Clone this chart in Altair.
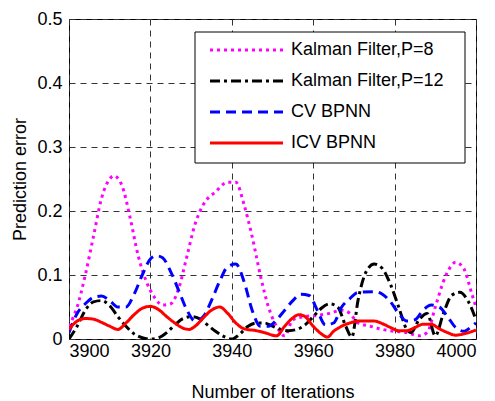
import altair as alt
import pandas as pd

# ---- data ----
kf8_x = [3900, 3902, 3904, 3906, 3908, 3910, 3911, 3913, 3915, 3917, 3919, 3921, 3923, 3925, 3927,
         3929, 3931, 3933, 3936, 3939, 3941, 3943, 3945, 3947, 3949, 3951, 3953, 3955, 3958, 3961,
         3964, 3967, 3969, 3971, 3974, 3977, 3980, 3983, 3986, 3988, 3990, 3992, 3994, 3995, 3997,
         3999, 4000]
kf8_y = [0.02, 0.05, 0.10, 0.16, 0.22, 0.25, 0.255, 0.24, 0.19, 0.13, 0.09, 0.065, 0.053, 0.055, 0.08,
         0.13, 0.18, 0.21, 0.23, 0.245, 0.245, 0.21, 0.16, 0.10, 0.05, 0.02, 0.005, 0.03, 0.035, 0.037,
         0.04, 0.045, 0.04, 0.025, 0.02, 0.015, 0.012, 0.01, 0.005, 0.01, 0.05, 0.09, 0.115, 0.12, 0.11,
         0.07, 0.05]

kf12_x = [3900, 3902, 3904, 3906, 3908, 3910, 3912, 3914, 3916, 3918, 3920, 3922, 3924, 3926, 3928,
          3930, 3932, 3934, 3936, 3938, 3940, 3942, 3944, 3946, 3948, 3950, 3952, 3954, 3956, 3958,
          3960, 3962, 3964, 3966, 3968, 3969.5, 3971, 3973, 3975, 3977, 3979, 3981, 3983, 3984, 3986,
          3988, 3990, 3992, 3994, 3996, 3998, 4000]
kf12_y = [0.0, 0.02, 0.045, 0.058, 0.06, 0.052, 0.035, 0.02, 0.008, 0.002, 0.0, 0.002, 0.01, 0.022, 0.032,
          0.035, 0.032, 0.022, 0.012, 0.004, 0.0, 0.008, 0.02, 0.025, 0.025, 0.02, 0.015, 0.013, 0.015, 0.022,
          0.035, 0.048, 0.055, 0.05, 0.02, 0.003, 0.06, 0.105, 0.117, 0.11, 0.085, 0.05, 0.015, 0.01, 0.03,
          0.04, 0.005, 0.04, 0.068, 0.073, 0.06, 0.03]

cv_x = [3900, 3902, 3904, 3906, 3908, 3910, 3912, 3914, 3916, 3918, 3920, 3921.5, 3923, 3925, 3927,
        3929, 3931, 3933, 3935, 3937, 3939, 3941, 3943, 3945, 3947, 3949, 3951, 3953, 3955, 3957,
        3959, 3961, 3963, 3965, 3967, 3969, 3971, 3975, 3977, 3979, 3981, 3983, 3985, 3987, 3989,
        3991, 3993, 3995, 3997, 3999, 4000]
cv_y = [0.01, 0.04, 0.055, 0.065, 0.067, 0.06, 0.05, 0.05, 0.07, 0.10, 0.125, 0.13, 0.127, 0.105, 0.075,
        0.045, 0.028, 0.035, 0.06, 0.09, 0.113, 0.117, 0.09, 0.045, 0.02, 0.02, 0.03, 0.045, 0.06, 0.07,
        0.068, 0.045, 0.022, 0.025, 0.05, 0.063, 0.073, 0.074, 0.07, 0.058, 0.04, 0.028, 0.03, 0.045, 0.053,
        0.05, 0.035, 0.018, 0.012, 0.02, 0.025]

icv_x = [3900, 3902, 3904, 3906, 3908, 3910, 3912, 3914, 3916, 3918, 3920, 3922, 3924, 3926, 3928,
         3929.5, 3931, 3933, 3935, 3937, 3939, 3941, 3943, 3946, 3948, 3951, 3953, 3955, 3956.5, 3958,
         3960, 3962, 3963.5, 3965, 3967, 3969, 3971, 3975, 3977, 3979, 3981, 3983, 3985, 3987, 3989,
         3991, 3993, 3995, 3997, 4000]
icv_y = [0.015, 0.028, 0.032, 0.031, 0.026, 0.02, 0.015, 0.025, 0.038, 0.048, 0.051, 0.046, 0.035, 0.025, 0.017,
         0.015, 0.02, 0.033, 0.045, 0.05, 0.04, 0.025, 0.016, 0.013, 0.01, 0.005, 0.02, 0.033, 0.038, 0.035,
         0.02, 0.008, 0.003, 0.012, 0.02, 0.025, 0.028, 0.028, 0.024, 0.018, 0.013, 0.013, 0.018, 0.023, 0.023,
         0.016, 0.01, 0.006, 0.008, 0.014]

series_names = ["Kalman Filter,P=8", "Kalman Filter,P=12", "CVBPNN", "ICVBPNN"]
legend_labels = ["Kalman Filter,P=8", "Kalman Filter,P=12", "CV BPNN", "ICV BPNN"]
series_x = [kf8_x, kf12_x, cv_x, icv_x]
series_y = [kf8_y, kf12_y, cv_y, icv_y]
colors = ["#ff00ff", "#000000", "#0000ff", "#ff0000"]
dashes = [[3, 4], [10, 4, 3, 4], [10, 6], [1, 0]]

x_ticks = [3900, 3920, 3940, 3960, 3980, 4000]
y_ticks = [0, 0.1, 0.2, 0.3, 0.4, 0.5]

FONT = "Liberation Sans"
FS = 18
W, H = 407, 320

common_axis = dict(grid=True, gridDash=[6, 5], gridColor="#333", gridOpacity=1,
                   ticks=False, domain=False, labelFont=FONT, titleFont=FONT,
                   labelFontSize=FS, titleFontSize=FS, labelColor="black",
                   titleColor="black", titleFontWeight="normal")

x_enc = alt.X("x:Q", scale=alt.Scale(domain=[3900, 4000], nice=False),
              axis=alt.Axis(values=x_ticks, format="d", title="Number of Iterations",
                            labelPadding=3, titlePadding=23, **common_axis))
y_enc = alt.Y("y:Q", scale=alt.Scale(domain=[0, 0.5], nice=False),
              axis=alt.Axis(values=y_ticks, format=".1~f", title="Prediction error",
                            labelPadding=7, titlePadding=7, **common_axis))

layers = []
for name, xs, ys, c, d in zip(series_names, series_x, series_y, colors, dashes):
    df = pd.DataFrame({"x": xs, "y": ys, "series": name})
    layers.append(
        alt.Chart(df).mark_line(color=c, strokeDash=d, strokeWidth=3, interpolate="monotone",
                                clip=True, strokeCap="butt")
        .encode(x=x_enc, y=y_enc)
    )

# ---- legend box (manual, MATLAB style) ----
box = alt.Chart(pd.DataFrame({"a": [0]})).mark_rect(fill="white", stroke="black", strokeWidth=1).encode(
    x=alt.value(126), x2=alt.value(396), y=alt.value(13), y2=alt.value(144))
layers.append(box)
row_y = [31, 62, 93, 124]
for lab, c, d, ry in zip(legend_labels, colors, dashes, row_y):
    layers.append(
        alt.Chart(pd.DataFrame({"label": [lab]})).mark_rule(color=c, strokeDash=d, strokeWidth=3,
                                                             strokeCap="butt")
        .encode(x=alt.value(141), x2=alt.value(214), y=alt.value(ry))
    )
    layers.append(
        alt.Chart(pd.DataFrame({"label": [lab]})).mark_text(align="left", baseline="middle",
                                                             font=FONT, fontSize=FS, color="black")
        .encode(x=alt.value(222), y=alt.value(ry), text="label:N")
    )

chart = alt.layer(*layers).properties(
    width=W, height=H, background="white",
    padding={"left": 3, "top": 2, "right": 5, "bottom": 5}
).configure_view(stroke="black", strokeWidth=1)

chart.save("out.html", embed_options={"renderer": "svg", "actions": False})
